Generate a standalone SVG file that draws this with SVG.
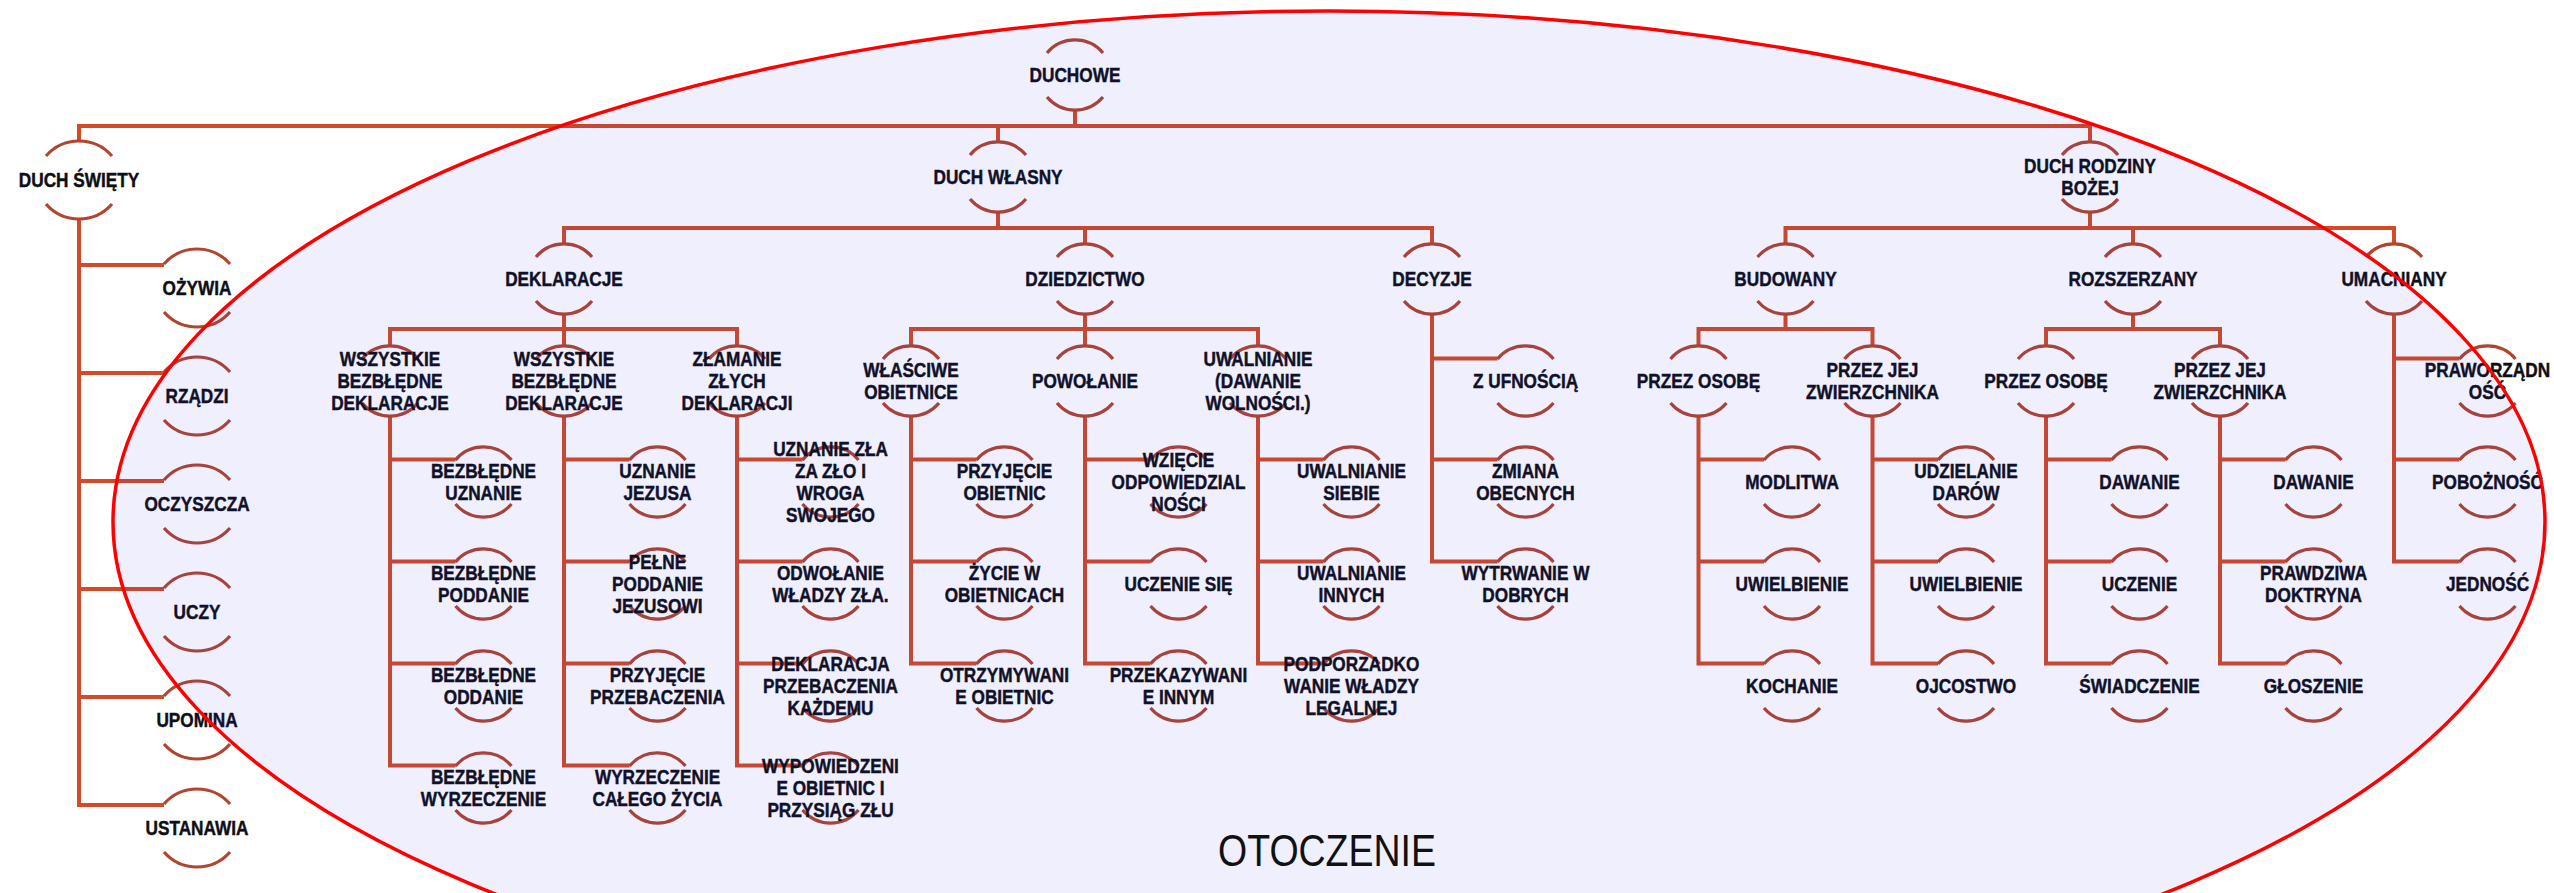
<svg xmlns="http://www.w3.org/2000/svg" xmlns:xlink="http://www.w3.org/1999/xlink" width="2554" height="893" viewBox="0 0 2554 893">
<defs>
<style>
.c{fill:none;stroke:#D24A26;stroke-width:4;stroke-linejoin:miter}
.a{fill:none;stroke:#B2452E;stroke-width:3.2}
.t{font-family:"Liberation Sans",Arial,sans-serif;font-weight:bold;font-size:20.5px;fill:#0E0E16;stroke:#0E0E16;stroke-width:0.45px;text-anchor:middle;transform-box:fill-box;transform-origin:center;transform:scaleX(0.84)}
.env{fill:#3030E0;fill-opacity:0.08;stroke:#FF0000;stroke-width:3.5}
.lbl{font-family:"Liberation Sans",Arial,sans-serif;font-size:45px;fill:#111;text-anchor:middle}
</style>
<path id="n" d="M-28,-22A36.6,36.6 0 0 1 28,-22M-28,22A36.6,36.6 0 0 0 28,22"/>
<path id="b" d="M-33,-24A43.8,43.8 0 0 1 33,-24M-33,24A43.8,43.8 0 0 0 33,24"/>
</defs>
<rect width="2554" height="893" fill="#FFFFFF"/>

<g id="connectors" class="c">
<path d="M1075,110V126"/>
<path d="M79,141V126H2090V142"/>
<path d="M998,126V142"/>
<path d="M79,219V805H164M79,265H164M79,373H164M79,481H164M79,589H164M79,697H164"/>
<path d="M998,212V228M564,244V228H1432V244M1085,228V244"/>
<path d="M2090,212V228M1785.5,244V228H2394V244M2133,228V244"/>
<path d="M564,314V329M390,346V329H737V346M564,329V346"/>
<path d="M1085,314V329M911,346V329H1258V346M1085,329V346"/>
<path d="M1785.5,314V329M1698.5,346V329H1872.5V346"/>
<path d="M2133,314V329M2046,346V329H2220V346"/>
<path d="M1432,314V561.4H1497.5M1432,358.4H1497.5M1432,459.4H1497.5"/>
<path d="M2394,314V561.4H2459.5M2394,358.4H2459.5M2394,459.4H2459.5"/>
<path d="M390,416V765.4H455.5M390,459.4H455.5M390,561.4H455.5M390,663.4H455.5"/>
<path d="M564,416V765.4H629.5M564,459.4H629.5M564,561.4H629.5M564,663.4H629.5"/>
<path d="M737,416V765.4H802.5M737,459.4H802.5M737,561.4H802.5M737,663.4H802.5"/>
<path d="M911,416V663.4H976.5M911,459.4H976.5M911,561.4H976.5"/>
<path d="M1085,416V663.4H1150.5M1085,459.4H1150.5M1085,561.4H1150.5"/>
<path d="M1258,416V663.4H1323.5M1258,459.4H1323.5M1258,561.4H1323.5"/>
<path d="M1698.5,416V663.4H1764M1698.5,459.4H1764M1698.5,561.4H1764"/>
<path d="M1872.5,416V663.4H1938M1872.5,459.4H1938M1872.5,561.4H1938"/>
<path d="M2046,416V663.4H2111.5M2046,459.4H2111.5M2046,561.4H2111.5"/>
<path d="M2220,416V663.4H2285.5M2220,459.4H2285.5M2220,561.4H2285.5"/>
</g>

<g id="nodes">
<g id="duchowe"><use class="a" xlink:href="#n" x="1075" y="75"/><text class="t" x="1075" y="82.3">DUCHOWE</text></g>

<g id="duch-swiety"><use class="a" xlink:href="#b" x="79" y="180"/><text class="t" x="79" y="187.3">DUCH ŚWIĘTY</text></g>
<g id="ozywia"><use class="a" xlink:href="#b" x="197" y="288"/><text class="t" x="197" y="295.3">OŻYWIA</text></g>
<g id="rzadzi"><use class="a" xlink:href="#b" x="197" y="396"/><text class="t" x="197" y="403.3">RZĄDZI</text></g>
<g id="oczyszcza"><use class="a" xlink:href="#b" x="197" y="504"/><text class="t" x="197" y="511.3">OCZYSZCZA</text></g>
<g id="uczy"><use class="a" xlink:href="#b" x="197" y="612"/><text class="t" x="197" y="619.3">UCZY</text></g>
<g id="upomina"><use class="a" xlink:href="#b" x="197" y="720"/><text class="t" x="197" y="727.3">UPOMINA</text></g>
<g id="ustanawia"><use class="a" xlink:href="#b" x="197" y="828"/><text class="t" x="197" y="835.3">USTANAWIA</text></g>

<g id="duch-wlasny"><use class="a" xlink:href="#n" x="998" y="177"/><text class="t" x="998" y="184.3">DUCH WŁASNY</text></g>
<g id="duch-rodziny"><use class="a" xlink:href="#n" x="2090" y="177"/><text class="t" x="2090" y="173.3"><tspan x="2090">DUCH RODZINY</tspan><tspan x="2090" dy="22">BOŻEJ</tspan></text></g>

<g id="deklaracje"><use class="a" xlink:href="#n" x="564" y="279"/><text class="t" x="564" y="286.3">DEKLARACJE</text></g>
<g id="dziedzictwo"><use class="a" xlink:href="#n" x="1085" y="279"/><text class="t" x="1085" y="286.3">DZIEDZICTWO</text></g>
<g id="decyzje"><use class="a" xlink:href="#n" x="1432" y="279"/><text class="t" x="1432" y="286.3">DECYZJE</text></g>
<g id="budowany"><use class="a" xlink:href="#n" x="1785.5" y="279"/><text class="t" x="1785.5" y="286.3">BUDOWANY</text></g>
<g id="rozszerzany"><use class="a" xlink:href="#n" x="2133" y="279"/><text class="t" x="2133" y="286.3">ROZSZERZANY</text></g>
<g id="umacniany"><use class="a" xlink:href="#n" x="2394" y="279"/><text class="t" x="2394" y="286.3">UMACNIANY</text></g>

<g id="wszystkie-1"><use class="a" xlink:href="#n" x="390" y="381"/><text class="t" x="390" y="366.3"><tspan x="390">WSZYSTKIE</tspan><tspan x="390" dy="22">BEZBŁĘDNE</tspan><tspan x="390" dy="22">DEKLARACJE</tspan></text></g>
<g id="wszystkie-2"><use class="a" xlink:href="#n" x="564" y="381"/><text class="t" x="564" y="366.3"><tspan x="564">WSZYSTKIE</tspan><tspan x="564" dy="22">BEZBŁĘDNE</tspan><tspan x="564" dy="22">DEKLARACJE</tspan></text></g>
<g id="zlamanie"><use class="a" xlink:href="#n" x="737" y="381"/><text class="t" x="737" y="366.3"><tspan x="737">ZŁAMANIE</tspan><tspan x="737" dy="22">ZŁYCH</tspan><tspan x="737" dy="22">DEKLARACJI</tspan></text></g>
<g id="wlasciwe"><use class="a" xlink:href="#n" x="911" y="381"/><text class="t" x="911" y="377.3"><tspan x="911">WŁAŚCIWE</tspan><tspan x="911" dy="22">OBIETNICE</tspan></text></g>
<g id="powolanie"><use class="a" xlink:href="#n" x="1085" y="381"/><text class="t" x="1085" y="388.3">POWOŁANIE</text></g>
<g id="uwalnianie"><use class="a" xlink:href="#n" x="1258" y="381"/><text class="t" x="1258" y="366.3"><tspan x="1258">UWALNIANIE</tspan><tspan x="1258" dy="22">(DAWANIE</tspan><tspan x="1258" dy="22">WOLNOŚCI.)</tspan></text></g>
<g id="przez-osobe-1"><use class="a" xlink:href="#n" x="1698.5" y="381"/><text class="t" x="1698.5" y="388.3">PRZEZ OSOBĘ</text></g>
<g id="przez-zwierzchnika-1"><use class="a" xlink:href="#n" x="1872.5" y="381"/><text class="t" x="1872.5" y="377.3"><tspan x="1872.5">PRZEZ JEJ</tspan><tspan x="1872.5" dy="22">ZWIERZCHNIKA</tspan></text></g>
<g id="przez-osobe-2"><use class="a" xlink:href="#n" x="2046" y="381"/><text class="t" x="2046" y="388.3">PRZEZ OSOBĘ</text></g>
<g id="przez-zwierzchnika-2"><use class="a" xlink:href="#n" x="2220" y="381"/><text class="t" x="2220" y="377.3"><tspan x="2220">PRZEZ JEJ</tspan><tspan x="2220" dy="22">ZWIERZCHNIKA</tspan></text></g>

<g id="z-ufnoscia"><use class="a" xlink:href="#n" x="1525.5" y="381"/><text class="t" x="1525.5" y="388.3">Z UFNOŚCIĄ</text></g>
<g id="zmiana"><use class="a" xlink:href="#n" x="1525.5" y="482"/><text class="t" x="1525.5" y="478.3"><tspan x="1525.5">ZMIANA</tspan><tspan x="1525.5" dy="22">OBECNYCH</tspan></text></g>
<g id="wytrwanie"><use class="a" xlink:href="#n" x="1525.5" y="584"/><text class="t" x="1525.5" y="580.3"><tspan x="1525.5">WYTRWANIE W</tspan><tspan x="1525.5" dy="22">DOBRYCH</tspan></text></g>

<g id="praworzadnosc"><use class="a" xlink:href="#n" x="2487.5" y="381"/><text class="t" x="2487.5" y="377.3"><tspan x="2487.5">PRAWORZĄDN</tspan><tspan x="2487.5" dy="22">OŚĆ</tspan></text></g>
<g id="poboznosc"><use class="a" xlink:href="#n" x="2487.5" y="482"/><text class="t" x="2487.5" y="489.3">POBOŻNOŚĆ</text></g>
<g id="jednosc"><use class="a" xlink:href="#n" x="2487.5" y="584"/><text class="t" x="2487.5" y="591.3">JEDNOŚĆ</text></g>

<g id="bezbledne-uznanie"><use class="a" xlink:href="#n" x="483.5" y="482"/><text class="t" x="483.5" y="478.3"><tspan x="483.5">BEZBŁĘDNE</tspan><tspan x="483.5" dy="22">UZNANIE</tspan></text></g>
<g id="bezbledne-poddanie"><use class="a" xlink:href="#n" x="483.5" y="584"/><text class="t" x="483.5" y="580.3"><tspan x="483.5">BEZBŁĘDNE</tspan><tspan x="483.5" dy="22">PODDANIE</tspan></text></g>
<g id="bezbledne-oddanie"><use class="a" xlink:href="#n" x="483.5" y="686"/><text class="t" x="483.5" y="682.3"><tspan x="483.5">BEZBŁĘDNE</tspan><tspan x="483.5" dy="22">ODDANIE</tspan></text></g>
<g id="bezbledne-wyrzeczenie"><use class="a" xlink:href="#n" x="483.5" y="788"/><text class="t" x="483.5" y="784.3"><tspan x="483.5">BEZBŁĘDNE</tspan><tspan x="483.5" dy="22">WYRZECZENIE</tspan></text></g>

<g id="uznanie-jezusa"><use class="a" xlink:href="#n" x="657.5" y="482"/><text class="t" x="657.5" y="478.3"><tspan x="657.5">UZNANIE</tspan><tspan x="657.5" dy="22">JEZUSA</tspan></text></g>
<g id="pelne-poddanie"><use class="a" xlink:href="#n" x="657.5" y="584"/><text class="t" x="657.5" y="569.3"><tspan x="657.5">PEŁNE</tspan><tspan x="657.5" dy="22">PODDANIE</tspan><tspan x="657.5" dy="22">JEZUSOWI</tspan></text></g>
<g id="przyjecie-przebaczenia"><use class="a" xlink:href="#n" x="657.5" y="686"/><text class="t" x="657.5" y="682.3"><tspan x="657.5">PRZYJĘCIE</tspan><tspan x="657.5" dy="22">PRZEBACZENIA</tspan></text></g>
<g id="wyrzeczenie-zycia"><use class="a" xlink:href="#n" x="657.5" y="788"/><text class="t" x="657.5" y="784.3"><tspan x="657.5">WYRZECZENIE</tspan><tspan x="657.5" dy="22">CAŁEGO ŻYCIA</tspan></text></g>

<g id="uznanie-zla"><use class="a" xlink:href="#n" x="830.5" y="482"/><text class="t" x="830.5" y="456.3"><tspan x="830.5">UZNANIE ZŁA</tspan><tspan x="830.5" dy="22">ZA ZŁO I</tspan><tspan x="830.5" dy="22">WROGA</tspan><tspan x="830.5" dy="22">SWOJEGO</tspan></text></g>
<g id="odwolanie"><use class="a" xlink:href="#n" x="830.5" y="584"/><text class="t" x="830.5" y="580.3"><tspan x="830.5">ODWOŁANIE</tspan><tspan x="830.5" dy="22">WŁADZY ZŁA.</tspan></text></g>
<g id="deklaracja-przebaczenia"><use class="a" xlink:href="#n" x="830.5" y="686"/><text class="t" x="830.5" y="671.3"><tspan x="830.5">DEKLARACJA</tspan><tspan x="830.5" dy="22">PRZEBACZENIA</tspan><tspan x="830.5" dy="22">KAŻDEMU</tspan></text></g>
<g id="wypowiedzenie"><use class="a" xlink:href="#n" x="830.5" y="788"/><text class="t" x="830.5" y="773.3"><tspan x="830.5">WYPOWIEDZENI</tspan><tspan x="830.5" dy="22">E OBIETNIC I</tspan><tspan x="830.5" dy="22">PRZYSIĄG ZŁU</tspan></text></g>

<g id="przyjecie-obietnic"><use class="a" xlink:href="#n" x="1004.5" y="482"/><text class="t" x="1004.5" y="478.3"><tspan x="1004.5">PRZYJĘCIE</tspan><tspan x="1004.5" dy="22">OBIETNIC</tspan></text></g>
<g id="zycie-w-obietnicach"><use class="a" xlink:href="#n" x="1004.5" y="584"/><text class="t" x="1004.5" y="580.3"><tspan x="1004.5">ŻYCIE W</tspan><tspan x="1004.5" dy="22">OBIETNICACH</tspan></text></g>
<g id="otrzymywanie"><use class="a" xlink:href="#n" x="1004.5" y="686"/><text class="t" x="1004.5" y="682.3"><tspan x="1004.5">OTRZYMYWANI</tspan><tspan x="1004.5" dy="22">E OBIETNIC</tspan></text></g>

<g id="wziecie"><use class="a" xlink:href="#n" x="1178.5" y="482"/><text class="t" x="1178.5" y="467.3"><tspan x="1178.5">WZIĘCIE</tspan><tspan x="1178.5" dy="22">ODPOWIEDZIAL</tspan><tspan x="1178.5" dy="22">NOŚCI</tspan></text></g>
<g id="uczenie-sie"><use class="a" xlink:href="#n" x="1178.5" y="584"/><text class="t" x="1178.5" y="591.3">UCZENIE SIĘ</text></g>
<g id="przekazywanie"><use class="a" xlink:href="#n" x="1178.5" y="686"/><text class="t" x="1178.5" y="682.3"><tspan x="1178.5">PRZEKAZYWANI</tspan><tspan x="1178.5" dy="22">E INNYM</tspan></text></g>

<g id="uwalnianie-siebie"><use class="a" xlink:href="#n" x="1351.5" y="482"/><text class="t" x="1351.5" y="478.3"><tspan x="1351.5">UWALNIANIE</tspan><tspan x="1351.5" dy="22">SIEBIE</tspan></text></g>
<g id="uwalnianie-innych"><use class="a" xlink:href="#n" x="1351.5" y="584"/><text class="t" x="1351.5" y="580.3"><tspan x="1351.5">UWALNIANIE</tspan><tspan x="1351.5" dy="22">INNYCH</tspan></text></g>
<g id="podporzadkowanie"><use class="a" xlink:href="#n" x="1351.5" y="686"/><text class="t" x="1351.5" y="671.3"><tspan x="1351.5">PODPORZADKO</tspan><tspan x="1351.5" dy="22">WANIE WŁADZY</tspan><tspan x="1351.5" dy="22">LEGALNEJ</tspan></text></g>

<g id="modlitwa"><use class="a" xlink:href="#n" x="1792" y="482"/><text class="t" x="1792" y="489.3">MODLITWA</text></g>
<g id="uwielbienie-1"><use class="a" xlink:href="#n" x="1792" y="584"/><text class="t" x="1792" y="591.3">UWIELBIENIE</text></g>
<g id="kochanie"><use class="a" xlink:href="#n" x="1792" y="686"/><text class="t" x="1792" y="693.3">KOCHANIE</text></g>

<g id="udzielanie-darow"><use class="a" xlink:href="#n" x="1966" y="482"/><text class="t" x="1966" y="478.3"><tspan x="1966">UDZIELANIE</tspan><tspan x="1966" dy="22">DARÓW</tspan></text></g>
<g id="uwielbienie-2"><use class="a" xlink:href="#n" x="1966" y="584"/><text class="t" x="1966" y="591.3">UWIELBIENIE</text></g>
<g id="ojcostwo"><use class="a" xlink:href="#n" x="1966" y="686"/><text class="t" x="1966" y="693.3">OJCOSTWO</text></g>

<g id="dawanie-1"><use class="a" xlink:href="#n" x="2139.5" y="482"/><text class="t" x="2139.5" y="489.3">DAWANIE</text></g>
<g id="uczenie"><use class="a" xlink:href="#n" x="2139.5" y="584"/><text class="t" x="2139.5" y="591.3">UCZENIE</text></g>
<g id="swiadczenie"><use class="a" xlink:href="#n" x="2139.5" y="686"/><text class="t" x="2139.5" y="693.3">ŚWIADCZENIE</text></g>

<g id="dawanie-2"><use class="a" xlink:href="#n" x="2313.5" y="482"/><text class="t" x="2313.5" y="489.3">DAWANIE</text></g>
<g id="prawdziwa-doktryna"><use class="a" xlink:href="#n" x="2313.5" y="584"/><text class="t" x="2313.5" y="580.3"><tspan x="2313.5">PRAWDZIWA</tspan><tspan x="2313.5" dy="22">DOKTRYNA</tspan></text></g>
<g id="gloszenie"><use class="a" xlink:href="#n" x="2313.5" y="686"/><text class="t" x="2313.5" y="693.3">GŁOSZENIE</text></g>
</g>

<g id="otoczenie">
<ellipse class="env" cx="1329" cy="522" rx="1216" ry="511"/>
<text class="lbl" x="1327" y="866" textLength="218" lengthAdjust="spacingAndGlyphs">OTOCZENIE</text>
</g>
</svg>
